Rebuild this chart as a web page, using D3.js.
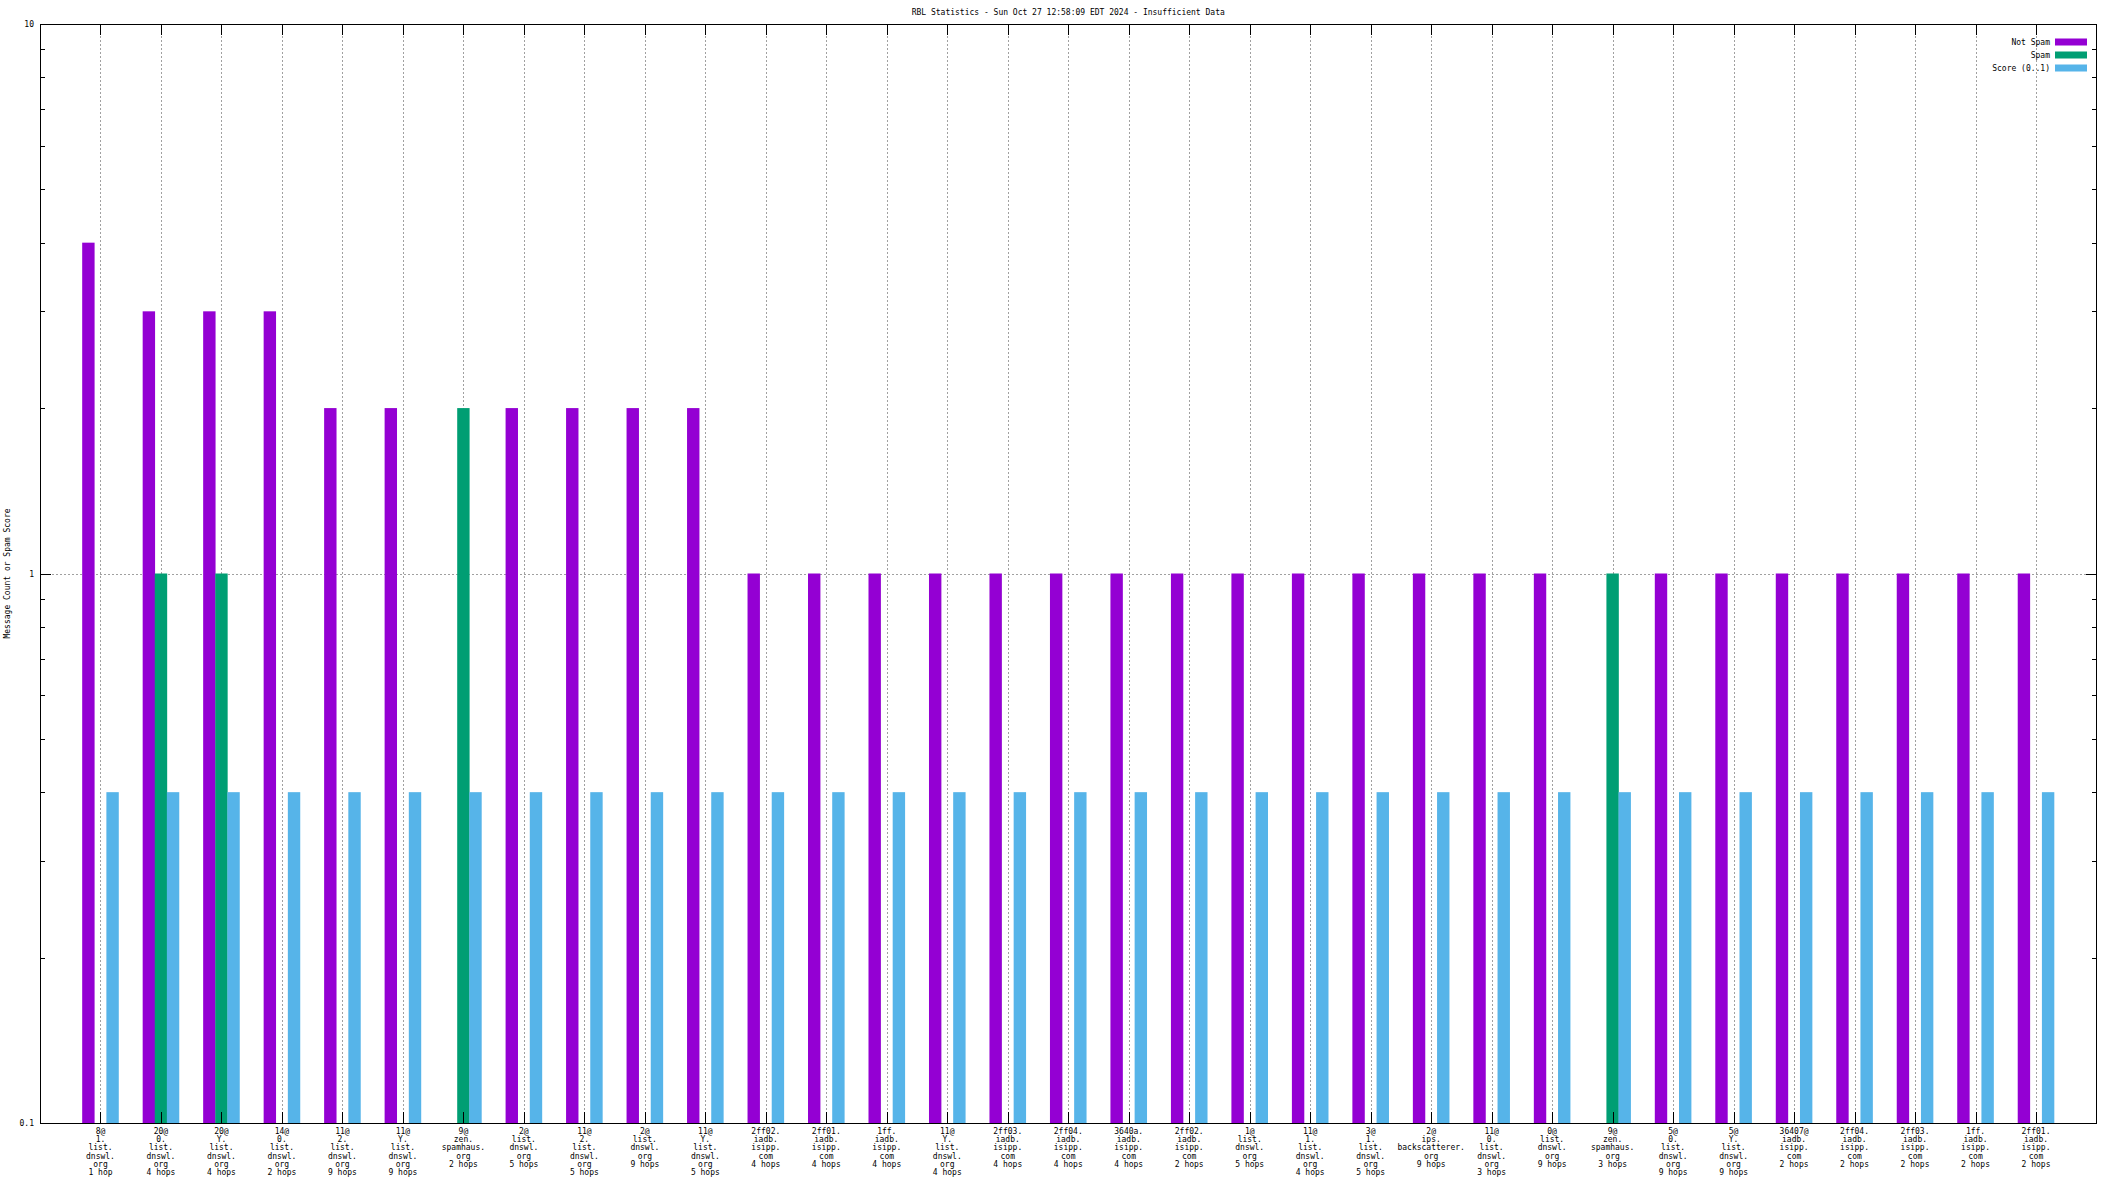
<!DOCTYPE html>
<html>
<head>
<meta charset="utf-8">
<script src="https://cdn.jsdelivr.net/npm/d3@7"></script>
<style>
html,body{margin:0;padding:0;background:#fff;}
svg{display:block;}
text{font-family:"DejaVu Sans Mono","Liberation Mono",monospace;font-size:8px;fill:#000;}
</style>
</head>
<body>
<svg id="chart" width="2112" height="1188"></svg>
<script>
const title = "RBL Statistics - Sun Oct 27 12:58:09 EDT 2024 - Insufficient Data";
const yLabel = "Message Count or Spam Score";
const categories = [
  "8@\n1.\nlist.\ndnswl.\norg\n1 hop",
  "20@\n0.\nlist.\ndnswl.\norg\n4 hops",
  "20@\nY.\nlist.\ndnswl.\norg\n4 hops",
  "14@\n0.\nlist.\ndnswl.\norg\n2 hops",
  "11@\n2.\nlist.\ndnswl.\norg\n9 hops",
  "11@\nY.\nlist.\ndnswl.\norg\n9 hops",
  "9@\nzen.\nspamhaus.\norg\n2 hops",
  "2@\nlist.\ndnswl.\norg\n5 hops",
  "11@\n2.\nlist.\ndnswl.\norg\n5 hops",
  "2@\nlist.\ndnswl.\norg\n9 hops",
  "11@\nY.\nlist.\ndnswl.\norg\n5 hops",
  "2ff02.\niadb.\nisipp.\ncom\n4 hops",
  "2ff01.\niadb.\nisipp.\ncom\n4 hops",
  "1ff.\niadb.\nisipp.\ncom\n4 hops",
  "11@\nY.\nlist.\ndnswl.\norg\n4 hops",
  "2ff03.\niadb.\nisipp.\ncom\n4 hops",
  "2ff04.\niadb.\nisipp.\ncom\n4 hops",
  "3640a.\niadb.\nisipp.\ncom\n4 hops",
  "2ff02.\niadb.\nisipp.\ncom\n2 hops",
  "1@\nlist.\ndnswl.\norg\n5 hops",
  "11@\n1.\nlist.\ndnswl.\norg\n4 hops",
  "3@\n1.\nlist.\ndnswl.\norg\n5 hops",
  "2@\nips.\nbackscatterer.\norg\n9 hops",
  "11@\n0.\nlist.\ndnswl.\norg\n3 hops",
  "0@\nlist.\ndnswl.\norg\n9 hops",
  "9@\nzen.\nspamhaus.\norg\n3 hops",
  "5@\n0.\nlist.\ndnswl.\norg\n9 hops",
  "5@\nY.\nlist.\ndnswl.\norg\n9 hops",
  "36407@\niadb.\nisipp.\ncom\n2 hops",
  "2ff04.\niadb.\nisipp.\ncom\n2 hops",
  "2ff03.\niadb.\nisipp.\ncom\n2 hops",
  "1ff.\niadb.\nisipp.\ncom\n2 hops",
  "2ff01.\niadb.\nisipp.\ncom\n2 hops"
];
const notSpam = [4,3,3,3,2,2,0,2,2,2,2,1,1,1,1,1,1,1,1,1,1,1,1,1,1,0,1,1,1,1,1,1,1];
const spam    = [0,1,1,0,0,0,2,0,0,0,0,0,0,0,0,0,0,0,0,0,0,0,0,0,0,1,0,0,0,0,0,0,0];
const score   = [0.4,0.4,0.4,0.4,0.4,0.4,0.4,0.4,0.4,0.4,0.4,0.4,0.4,0.4,0.4,0.4,0.4,0.4,0.4,0.4,0.4,0.4,0.4,0.4,0.4,0.4,0.4,0.4,0.4,0.4,0.4,0.4,0.4];
const seriesNames = ["Not Spam","Spam","Score (0..1)"];
const seriesColors = ["#9400d3","#009e73","#56b4e9"];
const yMajorTicks = [0.1,1,10];
const yTickLabels = ["0.1","1","10"];

const svg = d3.select("#chart");
svg.append("rect").attr("width",2112).attr("height",1188).attr("fill","#fff");
const L=40, R=2096.5, T=24, B=1123;
const x = d3.scaleLinear().domain([-1, categories.length]).range([L, R]);
const y = d3.scaleLog().domain([0.1, 10]).range([B, T]);
const series = [notSpam, spam, score];
const offs = [-0.2, 0, 0.2];
const bw = x(0.205) - x(0);

// grid
const grid = svg.append("g").attr("stroke","#a0a0a0").attr("stroke-dasharray","2,2").attr("shape-rendering","crispEdges");
categories.forEach((c,i)=>{
  grid.append("line").attr("x1",Math.round(x(i))+0.5).attr("x2",Math.round(x(i))+0.5).attr("y1",T).attr("y2",B);
});
grid.append("line").attr("x1",L).attr("x2",R).attr("y1",Math.round(y(1))+0.5).attr("y2",Math.round(y(1))+0.5);

// bars
series.forEach((vals,s)=>{
  const pts = vals.map((v,i)=>({v:v,i:i})).filter(d=>d.v>0);
  svg.append("g").selectAll("rect").data(pts).join("rect")
    .attr("x",d=>x(d.i+offs[s]) - bw/2)
    .attr("width",bw)
    .attr("y",d=>y(d.v))
    .attr("height",d=>B - y(d.v))
    .attr("fill",seriesColors[s]);
});

// ticks
const tk = svg.append("g").attr("stroke","#000").attr("shape-rendering","crispEdges");
categories.forEach((c,i)=>{
  const xx = Math.round(x(i))+0.5;
  tk.append("line").attr("x1",xx).attr("x2",xx).attr("y1",B).attr("y2",B-11);
  tk.append("line").attr("x1",xx).attr("x2",xx).attr("y1",T).attr("y2",T+11);
});
const minor = [];
[0.1,1].forEach(b=>{ for(let k=2;k<=9;k++) minor.push(b*k); });
minor.forEach(v=>{
  const yy = Math.round(y(v))+0.5;
  tk.append("line").attr("x1",L).attr("x2",L+5).attr("y1",yy).attr("y2",yy);
  tk.append("line").attr("x1",R).attr("x2",R-5).attr("y1",yy).attr("y2",yy);
});
yMajorTicks.forEach(v=>{
  const yy = Math.round(y(v))+0.5;
  tk.append("line").attr("x1",L).attr("x2",L+11).attr("y1",yy).attr("y2",yy);
  tk.append("line").attr("x1",R).attr("x2",R-11).attr("y1",yy).attr("y2",yy);
});

// border
svg.append("rect").attr("x",L+0.5).attr("y",T+0.5).attr("width",R-L-1).attr("height",B-T)
  .attr("fill","none").attr("stroke","#000").attr("shape-rendering","crispEdges");

// y tick labels
yMajorTicks.forEach((v,i)=>{
  svg.append("text").attr("x",34).attr("y",y(v)+3).attr("text-anchor","end").text(yTickLabels[i]);
});

// x labels
categories.forEach((c,i)=>{
  const t = svg.append("text").attr("text-anchor","middle").attr("y",1134);
  c.split("\n").forEach((ln,j)=>{
    t.append("tspan").attr("x",x(i)).attr("dy", j===0?0:8.2).text(ln);
  });
});

// title
svg.append("text").attr("x",(L+R)/2).attr("y",15).attr("text-anchor","middle").text(title);

// y axis label
svg.append("text").attr("transform",`translate(10,${(T+B)/2}) rotate(-90)`).attr("text-anchor","middle").text(yLabel);

// legend
seriesNames.forEach((n,i)=>{
  const yy = 42 + i*13;
  svg.append("text").attr("x",2050).attr("y",yy+3).attr("text-anchor","end").text(n);
  svg.append("rect").attr("x",2055).attr("y",yy-3.5).attr("width",32).attr("height",7).attr("fill",seriesColors[i]);
});
</script>
</body>
</html>
